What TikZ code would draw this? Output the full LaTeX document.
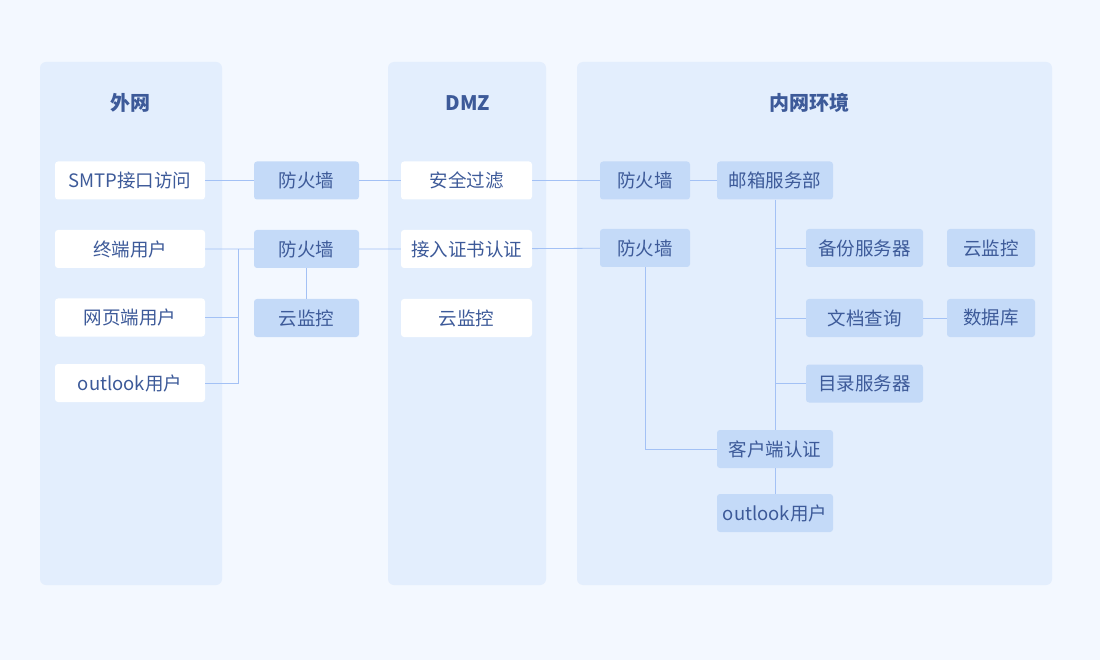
\documentclass[tikz,border=0pt]{standalone}
\usepackage{fontspec}
\setmainfont{Noto Sans CJK SC}
\usepackage{tikz}
\usetikzlibrary{positioning}

\definecolor{pagebg}{HTML}{F3F8FF}
\definecolor{zonebg}{HTML}{E3EEFD}
\definecolor{boxblue}{HTML}{C4DAF8}
\definecolor{linkblue}{HTML}{A3C1F5}
\definecolor{ink}{HTML}{3D5A99}

\tikzset{
  zone/.style={fill=zonebg, rounded corners=6pt},
  zonetitle/.style={text=ink, font=\fontsize{20}{24}\selectfont\bfseries},
  whitebox/.style={fill=white, rounded corners=3pt, inner sep=0pt,
    minimum height=38pt, text=ink, font=\fontsize{18.5}{22}\selectfont},
  bluebox/.style={whitebox, fill=boxblue},
  link/.style={draw=linkblue, line width=0.8pt}
}

\begin{document}
\begin{tikzpicture}[x=1pt,y=-1pt]
      \fill[pagebg] (0,0) rectangle (1100,660);

      % three zones
      \fill[zone] (40,62) rectangle (222,585);
      \fill[zone] (388,62) rectangle (546,585);
      \fill[zone] (577,62) rectangle (1052,585);
      \node[zonetitle] (tOut) at (130,103) {外网};
      \node[zonetitle] (tDmz) at (468,103) {DMZ};
      \node[zonetitle] (tIn) at (809,103) {内网环境};

      % outer net
      \node[whitebox, minimum width=150pt] (smtp) at (130,180.5) {SMTP接口访问};
      \node[whitebox, minimum width=150pt] (enduser) at (130,249) {终端用户};
      \node[whitebox, minimum width=150pt] (webuser) at (130,317.5) {网页端用户};
      \node[whitebox, minimum width=150pt] (olOut) at (130,383) {outlook用户};

      \node[bluebox, minimum width=105pt] (fwA) at (306.5,180.5) {防火墙};
      \node[bluebox, minimum width=105pt] (fwB) at (306.5,249) {防火墙};
      \node[bluebox, minimum width=105pt] (monA) at (306.5,318) {云监控};

      % dmz
      \node[whitebox, minimum width=131pt] (filter) at (466.5,180.5) {安全过滤};
      \node[whitebox, minimum width=131pt] (cert) at (466.5,249) {接入证书认证};
      \node[whitebox, minimum width=131pt] (monB) at (466.5,318) {云监控};

      % inner net
      \node[bluebox, minimum width=90pt] (fwC) at (645,180.5) {防火墙};
      \node[bluebox, minimum width=90pt] (fwD) at (645,248) {防火墙};
      \node[bluebox, minimum width=116pt] (mail) at (775,180.5) {邮箱服务部};
      \node[bluebox, minimum width=117pt] (backup) at (864.5,248) {备份服务器};
      \node[bluebox, minimum width=88pt] (monC) at (991,248) {云监控};
      \node[bluebox, minimum width=117pt] (docs) at (864.5,318) {文档查询};
      \node[bluebox, minimum width=88pt] (db) at (991,318) {数据库};
      \node[bluebox, minimum width=117pt] (dir) at (864.5,383.5) {目录服务器};
      \node[bluebox, minimum width=116pt] (client) at (775,449) {客户端认证};
      \node[bluebox, minimum width=116pt] (olIn) at (775,513) {outlook用户};

      % links
      \coordinate (bus) at (238,249);
      \draw[link] (smtp) -- (fwA) -- (filter) -- (fwC) -- (mail);
      \draw[link] (enduser) -- (fwB) -- (cert) -- (fwD);
      \draw[link] (webuser.east) -- (webuser.east -| bus);
      \draw[link] (olOut.east) -| (bus);
      \draw[link] (fwB) -- (monA);
      \draw[link] (fwD.south) |- (client.west);
      \draw[link] (mail) -- (client);
      \draw[link] (backup.west) -- (backup.west -| mail);
      \draw[link] (docs.west) -- (docs.west -| mail);
      \draw[link] (dir.west) -- (dir.west -| mail);
      \draw[link] (docs) -- (db);
      \draw[link] (client) -- (olIn);
\end{tikzpicture}
\end{document}
